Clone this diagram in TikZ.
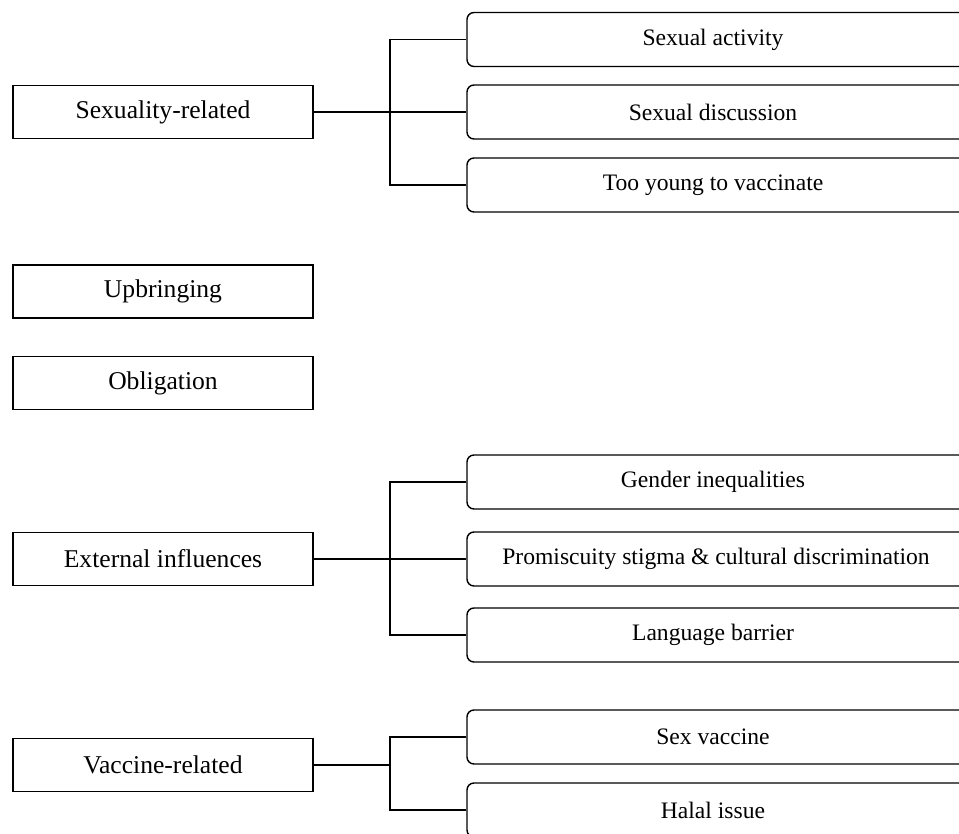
\documentclass[tikz,border=0pt]{standalone}
\usepackage{fontspec}
\setmainfont{Liberation Serif}
\tikzset{
  lbox/.style={draw, line width=1.4pt, minimum width=300pt, minimum height=53pt, inner sep=0pt, font=\fontsize{25.6}{30}\selectfont},
  rbox/.style={draw, line width=1.4pt, rounded corners=7pt, minimum width=560pt, minimum height=54pt, inner sep=0pt},
  rtxt/.style={inner sep=0pt, font=\fontsize{23.6}{28}\selectfont},
  conn/.style={line width=1.4pt}
}
\begin{document}
\begin{tikzpicture}[x=1pt, y=-1pt]
\useasboundingbox (0,0) rectangle (959,834);
% left boxes
\node[lbox] (sr) at (163,112) {Sexuality-related};
\node[lbox] (up) at (163,291.5) {Upbringing};
\node[lbox] (ob) at (163,383) {Obligation};
\node[lbox] (ei) at (163,559) {External influences};
\node[lbox] (vr) at (163,765) {Vaccine-related};
% right boxes
\node[rbox] (sa) at (747,39.5) {};
\node[rbox] (sd) at (747,112) {};
\node[rbox] (ty) at (747,185) {};
\node[rbox] (gi) at (747,482) {};
\node[rbox] (pr) at (747,559) {};
\node[rbox] (lb) at (747,635) {};
\node[rbox] (sv) at (747,737) {};
\node[rbox] (hi) at (747,810) {};
% right texts
\node[rtxt] (sat) at (713,39.5) {Sexual activity};
\node[rtxt] (sdt) at (713,112) {Sexual discussion};
\node[rtxt] (tyt) at (713,185) {Too young to vaccinate};
\node[rtxt] (git) at (713,482) {Gender inequalities};
\node[rtxt] (prt) at (716,559) {Promiscuity stigma \& cultural discrimination};
\node[rtxt] (lbt) at (713,635) {Language barrier};
\node[rtxt] (svt) at (713,737) {Sex vaccine};
\node[rtxt] (hit) at (713,810) {Halal issue};
% junctions
\coordinate (j1) at (390,112);
\coordinate (j2) at (390,559);
\coordinate (j3) at (390,765);
% connectors
\draw[conn] (sr.east) -- (sd.west);
\draw[conn] (sa.west) -- (sa.west -| j1) -- (ty.west -| j1) -- (ty.west);
\draw[conn] (ei.east) -- (pr.west);
\draw[conn] (gi.west) -- (gi.west -| j2) -- (lb.west -| j2) -- (lb.west);
\draw[conn] (vr.east) -- (j3);
\draw[conn] (sv.west) -- (sv.west -| j3) -- (hi.west -| j3) -- (hi.west);
\end{tikzpicture}
\end{document}
